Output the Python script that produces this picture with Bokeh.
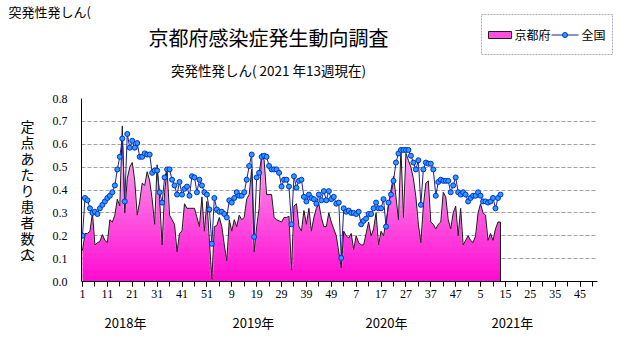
import numpy as np
from bokeh.plotting import figure
from bokeh.layouts import column, row
from bokeh.models import (Range1d, FixedTicker, LinearAxis, NumeralTickFormatter)
from bokeh.core.properties import value
from bokeh.embed import file_html
from bokeh.resources import INLINE

# ---------------- data ----------------
kyoto = [0.135, 0.21, 0.21, 0.22, 0.30, 0.16, 0.17, 0.175, 0.205, 0.18,
         0.17, 0.27, 0.26, 0.29, 0.36, 0.33, 0.68, 0.30, 0.45, 0.50,
         0.52, 0.44, 0.29, 0.35, 0.43, 0.42, 0.48, 0.44, 0.36, 0.25,
         0.51, 0.36, 0.16, 0.39, 0.49, 0.29, 0.27, 0.25, 0.13, 0.21,
         0.22, 0.34, 0.32, 0.32, 0.32, 0.32, 0.28, 0.24, 0.37, 0.22,
         0.35, 0.18, 0.01, 0.24, 0.245, 0.28, 0.24, 0.16, 0.09, 0.27,
         0.22, 0.27, 0.24, 0.29, 0.27, 0.28, 0.36, 0.38, 0.49, 0.13,
         0.24, 0.32, 0.56, 0.53, 0.38, 0.38, 0.38, 0.28, 0.27, 0.265,
         0.26, 0.28, 0.28, 0.285, 0.05, 0.33, 0.34, 0.24, 0.22, 0.31,
         0.25, 0.32, 0.22, 0.28, 0.32, 0.34, 0.28, 0.24, 0.24, 0.30,
         0.26, 0.23, 0.20, 0.13, 0.06, 0.22, 0.20, 0.19, 0.21, 0.14,
         0.20, 0.17, 0.16, 0.16, 0.21, 0.26, 0.20, 0.23, 0.30, 0.16,
         0.22, 0.20, 0.26, 0.33, 0.40, 0.46, 0.37, 0.27, 0.58, 0.28,
         0.56, 0.53, 0.50, 0.45, 0.37, 0.25, 0.17, 0.33, 0.43, 0.44,
         0.26, 0.25, 0.23, 0.25, 0.26, 0.39, 0.37, 0.27, 0.23, 0.30,
         0.33, 0.20, 0.32, 0.16, 0.18, 0.20, 0.18, 0.17, 0.20, 0.30,
         0.34, 0.30, 0.29, 0.18, 0.21, 0.18, 0.23, 0.26, 0.26]

national = [0.20, 0.365, 0.355, 0.32, 0.30, 0.305, 0.295, 0.32, 0.335, 0.35,
            0.365, 0.375, 0.39, 0.42, 0.49, 0.545, 0.625, 0.35, 0.645, 0.585,
            0.615, 0.585, 0.605, 0.545, 0.545, 0.56, 0.555, 0.555, 0.475, 0.485,
            0.485, 0.39, 0.345, 0.455, 0.49, 0.49, 0.445, 0.42, 0.38, 0.435,
            0.38, 0.405, 0.415, 0.375, 0.46, 0.455, 0.39, 0.445, 0.42, 0.39,
            0.38, 0.315, 0.165, 0.365, 0.315, 0.305, 0.305, 0.295, 0.28, 0.355,
            0.345, 0.365, 0.39, 0.375, 0.375, 0.39, 0.445, 0.505, 0.555, 0.195,
            0.455, 0.475, 0.545, 0.55, 0.545, 0.505, 0.49, 0.49, 0.49, 0.475,
            0.415, 0.445, 0.445, 0.415, 0.25, 0.46, 0.41, 0.44, 0.445, 0.37,
            0.35, 0.38, 0.365, 0.36, 0.34, 0.38, 0.355, 0.395, 0.355, 0.395,
            0.36, 0.37, 0.34, 0.345, 0.103, 0.32, 0.305, 0.31, 0.30, 0.30,
            0.295, 0.305, 0.25, 0.265, 0.275, 0.295, 0.295, 0.32, 0.345, 0.32,
            0.32, 0.36, 0.24, 0.345, 0.38, 0.44, 0.52, 0.56, 0.575, 0.575,
            0.575, 0.575, 0.55, 0.52, 0.49, 0.53, 0.335, 0.49, 0.52, 0.515,
            0.515, 0.49, 0.375, 0.435, 0.445, 0.44, 0.44, 0.44, 0.39, 0.42,
            0.455, 0.39, 0.38, 0.39, 0.38, 0.35, 0.365, 0.375, 0.375, 0.39,
            0.375, 0.35, 0.35, 0.345, 0.35, 0.365, 0.32, 0.365, 0.38]

x_tick_labels = ["1", "11", "21", "31", "41", "51",
                 "9", "19", "29", "39", "49",
                 "7", "17", "27", "37", "47",
                 "5", "15", "25", "35", "45"]
year_labels = ["2018年", "2019年", "2020年", "2021年"]
y_ticks = [0.0, 0.1, 0.2, 0.3, 0.4, 0.5, 0.6, 0.7, 0.8]
series_names = ["京都府", "全国"]
title_text = "京都府感染症発生動向調査"
subtitle_text = "突発性発しん( 2021 年13週現在)"
corner_text = "突発性発しん("
ylabel_chars = ["定", "点", "あ", "た", "り", "患", "者", "数", "︵", "人", "︶"]

JP = "Noto Sans CJK JP"
NUM = "Liberation Sans Narrow"

W, H = 631, 347
TOP_H = 88          # header strip
LEFT_W = 40         # strip holding the vertical axis title
L, R, T, B = 82, 597, 98, 281   # plot frame in page pixels
XMAX = 207


def strip(width, height, x0, x1, y_top, y_bottom):
    f = figure(width=width, height=height, output_backend="svg", toolbar_location=None,
               x_range=Range1d(x0, x1), y_range=Range1d(y_bottom, y_top),
               min_border=0, x_axis_location=None, y_axis_location=None)
    f.grid.visible = False
    f.outline_line_color = None
    f.background_fill_color = "white"
    f.border_fill_color = "white"
    return f


# ---------------- header: titles and legend ----------------
top = strip(W, TOP_H, 0, W, 0, TOP_H)
top.text(x=[8], y=[11], text=[corner_text], text_font=value(JP), text_font_size="13px",
         text_align="left", text_baseline="middle", text_color="black")
top.text(x=[268], y=[37], text=[title_text], text_font=value(JP), text_font_size="20px",
         text_align="center", text_baseline="middle", text_color="black")
top.text(x=[268], y=[69], text=[subtitle_text], text_font=value(JP), text_font_size="13.5px",
         text_align="center", text_baseline="middle", text_color="black")
# legend
top.quad(left=[481], right=[612], top=[14], bottom=[54], fill_alpha=0,
         line_color="#b0a8c0", line_dash="2 1", line_width=1)
top.quad(left=[488], right=[511], top=[31], bottom=[38], fill_color="#ff50e0",
         line_color="#202020", line_width=1)
top.text(x=[514, 581], y=[34, 34], text=series_names, text_font=value(JP),
         text_font_size="12px", text_align="left", text_baseline="middle", text_color="black")
top.line(x=[551, 578], y=[34.5, 34.5], line_color="#202088", line_width=1)
top.scatter(x=[564.5], y=[34.5], size=5, marker="circle", fill_color="#2e9cff",
            line_color="#0030d0", line_width=1)

# ---------------- left strip: vertical axis title ----------------
# its frame is aligned by the row with the plot frame (page rows T..B)
left = strip(LEFT_W, H - TOP_H, 0, LEFT_W, T, B)
ylab_y = [125, 141, 157, 173, 189, 205, 221, 237, 245, 253, 261]
left.text(x=[27] * len(ylabel_chars), y=ylab_y, text=ylabel_chars, text_font=value(JP),
          text_font_size="14px", text_align="center", text_baseline="middle",
          text_color="black")

# ---------------- main plot ----------------
p = figure(width=W - LEFT_W, height=H - TOP_H, output_backend="svg", toolbar_location=None,
           x_range=Range1d(-0.4, XMAX), y_range=Range1d(0, 0.8),
           min_border_left=L - 1 - LEFT_W, min_border_right=W - R,
           min_border_top=T - TOP_H, min_border_bottom=H - B)
p.outline_line_color = None
p.background_fill_color = "white"
p.border_fill_color = "white"

x = np.arange(len(kyoto))
ky = np.array(kyoto)
na = np.array(national)

# gradient fill (absolute vertical gradient) built from the Kyoto series
edges = np.append(np.linspace(0, 0.7, 29), 0.85)
c0 = np.array([255, 10, 210])
c1 = np.array([255, 195, 245])
for k in range(len(edges) - 1):
    lo, hi = edges[k], edges[k + 1]
    t = min(1.0, (lo + hi) / 2 / 0.7)
    c = (c0 + (c1 - c0) * t).astype(int)
    col = "#%02x%02x%02x" % tuple(c)
    p.varea(x=x, y1=np.minimum(ky, lo), y2=np.minimum(ky, hi + 0.004), fill_color=col)

# outline of the area (closes down to zero at the last week)
p.line(np.append(x, x[-1]), np.append(ky, 0.0), line_color="#1a1a1a", line_width=1)

# national line + markers
p.line(x, na, line_color="#202088", line_width=1)
p.scatter(x, na, size=5, marker="circle", fill_color="#2e9cff", line_color="#0030d0",
          line_width=1)

# grid
p.xgrid.grid_line_color = None
p.ygrid.ticker = FixedTicker(ticks=y_ticks[1:])
p.ygrid.grid_line_color = "#a0a0a0"
p.ygrid.grid_line_dash = "4 2"

# y axis
yax = p.yaxis[0]
yax.ticker = FixedTicker(ticks=y_ticks)
yax.formatter = NumeralTickFormatter(format="0.0")
yax.axis_line_color = "black"
yax.major_tick_out = 0
yax.major_tick_in = 0
yax.minor_tick_out = 0
yax.minor_tick_in = 0
yax.major_label_standoff = 14
yax.major_label_text_font = NUM
yax.major_label_text_font_size = "12px"
yax.major_label_text_color = "black"

# x axis (week numbers)
xax = p.xaxis[0]
major = list(range(0, 10 * len(x_tick_labels), 10))
xax.ticker = FixedTicker(ticks=major, minor_ticks=list(range(0, XMAX, 5)))
xax.major_label_overrides = {t: lab for t, lab in zip(major, x_tick_labels)}
xax.axis_line_color = "black"
xax.major_tick_out = 5
xax.major_tick_in = 0
xax.minor_tick_out = 5
xax.minor_tick_in = 0
xax.major_tick_line_color = "black"
xax.minor_tick_line_color = "black"
xax.major_label_standoff = 3
xax.major_label_text_font = NUM
xax.major_label_text_font_size = "12px"
xax.major_label_text_color = "black"

# second x axis carrying the year captions
year_pos = [17.3, 68.7, 122.2, 172.8]
yr = LinearAxis(ticker=FixedTicker(ticks=year_pos),
                major_label_overrides={t: lab for t, lab in zip(year_pos, year_labels)},
                axis_line_color=None, major_tick_line_color=None, minor_tick_line_color=None,
                major_label_standoff=6, major_label_text_font=JP,
                major_label_text_font_size="13px", major_label_text_color="black")
p.add_layout(yr, "below")

layout = column(top, row(left, p, spacing=0), spacing=0)
open("out.html", "w").write(file_html(layout, INLINE))
